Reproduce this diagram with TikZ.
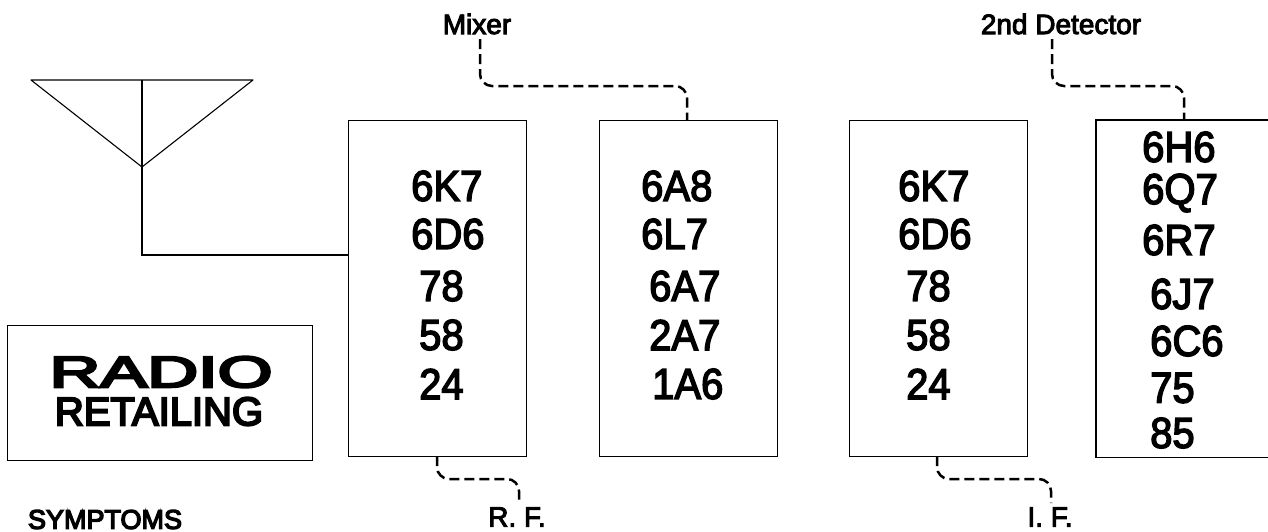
\documentclass[tikz,border=0pt]{standalone}
\usepackage{fontspec}
\setmainfont{Liberation Sans}
\newfontfamily\heavy[FakeBold=3.5]{Liberation Sans}
\newfontfamily\heavier[FakeBold=5]{Liberation Sans}
\tikzset{
  blockbox/.style={line width=1.1pt,fill=none,minimum width=#1,minimum height=336pt,inner sep=0pt,anchor=north west},
  tube/.style={font=\heavy\fontsize{40}{40}\selectfont,inner sep=0pt,text=black,anchor=west,yscale=1.08},
  lab/.style={font=\heavy\fontsize{28}{28}\selectfont,inner sep=0pt,text=black,anchor=center},
  wire/.style={draw=black,line width=1.1pt},
  lead/.style={draw=black,line width=2.5pt,dash pattern=on 10pt off 5pt,rounded corners=12pt}
}
\begin{document}
\begin{tikzpicture}[x=1pt,y=-1pt]
\useasboundingbox (0,0) rectangle (1268,531);
\node[blockbox=178pt,draw=black] (rf) at (348,120) {};
\node[blockbox=178pt,draw=black] (mix) at (598.5,120) {};
\node[blockbox=178pt,draw=black] (if) at (849,120) {};
\node[blockbox=172pt] (det) at (1096,120) {};
\draw[wire] (det.north east) -- (det.north west) -- (det.south west) -- (det.south east);
\node[draw=black,line width=1.1pt,minimum width=305pt,minimum height=135pt,inner sep=0pt,anchor=north west] (logo) at (7,325) {};
% antenna
\coordinate (al) at (31,80);
\coordinate (ar) at (253,80);
\coordinate (at) at (142,80);
\coordinate (ab) at (142,167);
\draw[wire,line join=round] (al) -- (ar) -- (ab) -- cycle;
\draw[wire] (at) -- (ab);
\coordinate (ae) at (348,255);
\draw[wire] (ab) |- (ae);
% tubes
\node[tube] (a1) at (411,186) {6K7};
\node[tube] (a2) at (411,234) {6D6};
\node[tube] (a3) at (419,286) {78};
\node[tube] (a4) at (419,335) {58};
\node[tube] (a5) at (419,384) {24};
\node[tube] (b1) at (641,186) {6A8};
\node[tube] (b2) at (641,234) {6L7};
\node[tube] (b3) at (649,286) {6A7};
\node[tube] (b4) at (649,335) {2A7};
\node[tube] (b5) at (652,384) {1A6};
\node[tube] (c1) at (898,186) {6K7};
\node[tube] (c2) at (898,234) {6D6};
\node[tube] (c3) at (906,286) {78};
\node[tube] (c4) at (906,335) {58};
\node[tube] (c5) at (906,384) {24};
\node[tube] (d1) at (1142,147) {6H6};
\node[tube] (d2) at (1142,193) {6Q7};
\node[tube] (d3) at (1142,240) {6R7};
\node[tube] (d4) at (1150,294) {6J7};
\node[tube] (d5) at (1150,341) {6C6};
\node[tube] (d6) at (1150,388) {75};
\node[tube] (d7) at (1150,433) {85};
% labels
\node[lab] (lmix) at (477,24) {Mixer};
\node[lab] (ldet) at (1061,24) {2nd Detector};
\node[lab] (lrf) at (517,517) {R. F.};
\node[lab] (lif) at (1050,517) {I. F.};
\node[font=\heavier\fontsize{27}{27}\selectfont,inner sep=0pt,anchor=center] (sym) at (105,519.5) {SYMPTOMS};
\node[font=\heavier\fontsize{44}{44}\selectfont,inner sep=0pt,xscale=1.6,anchor=center] (radio) at (161,372) {RADIO};
\node[font=\heavier\fontsize{40}{40}\selectfont,inner sep=0pt,anchor=center] (ret) at (159,411.5) {RETAILING};
% leads
\coordinate (mt) at (480,39);
\coordinate (mb) at (687,120);
\coordinate (dt) at (1052,39);
\coordinate (db) at (1184,120);
\coordinate (rt) at (437,456);
\coordinate (rb) at (519,504);
\coordinate (it) at (937,456);
\coordinate (ib) at (1051,503);
\draw[lead] (mt) |- (584,86) -| (mb);
\draw[lead] (dt) |- (1118,86) -| (db);
\draw[lead] (rt) |- (478,479) -| (rb);
\draw[lead] (it) |- (994,479) -| (ib);
\end{tikzpicture}
\end{document}
